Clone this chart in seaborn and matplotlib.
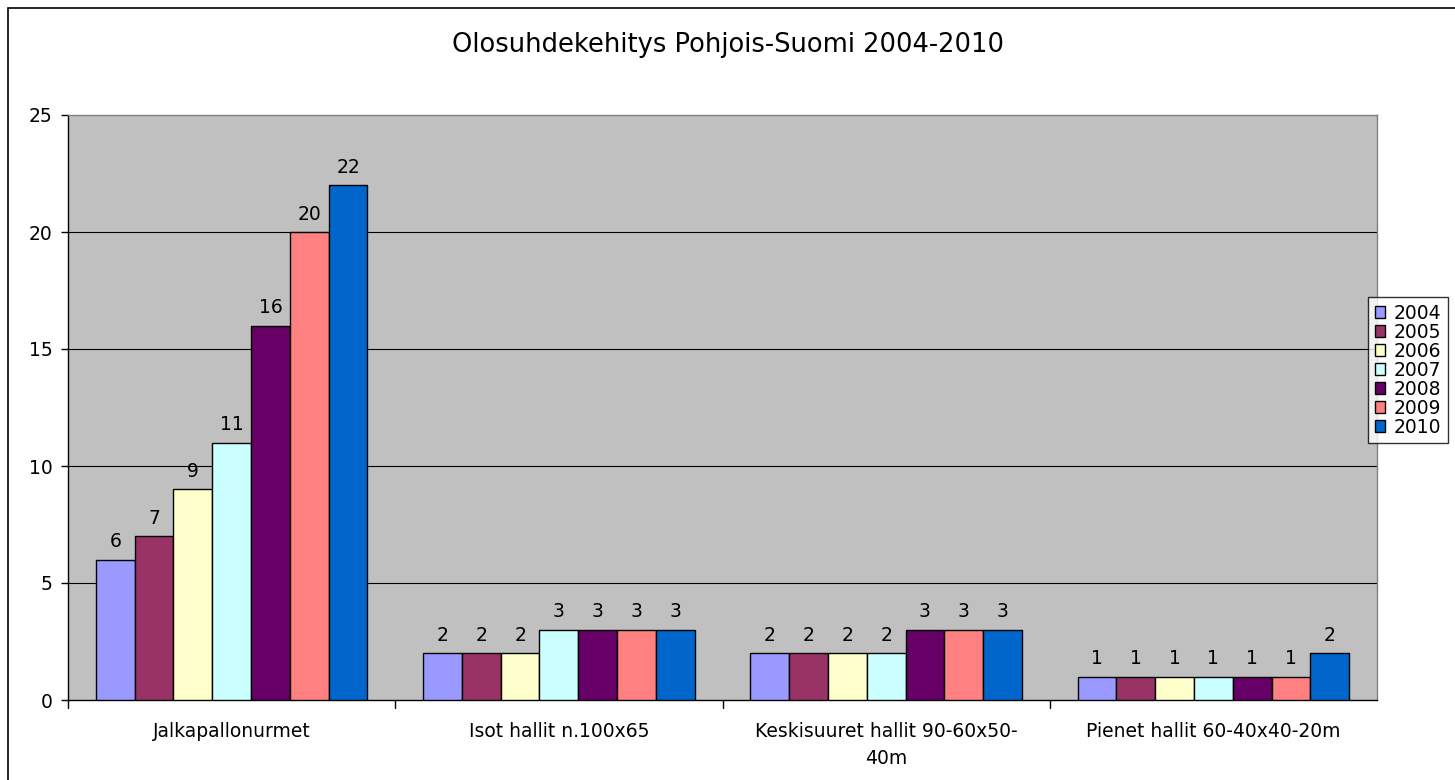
import matplotlib.pyplot as plt
import matplotlib.patches as mpatches
import seaborn as sns
import pandas as pd

# Chart data
categories = ['Jalkapallonurmet', 'Isot hallit n.100x65',
              'Keskisuuret hallit 90-60x50-\n40m', 'Pienet hallit 60-40x40-20m']
years = ['2004', '2005', '2006', '2007', '2008', '2009', '2010']
values_2004 = [6, 2, 2, 1]
values_2005 = [7, 2, 2, 1]
values_2006 = [9, 2, 2, 1]
values_2007 = [11, 3, 2, 1]
values_2008 = [16, 3, 3, 1]
values_2009 = [20, 3, 3, 1]
values_2010 = [22, 3, 3, 2]
year_colors = ['#9999FF', '#993366', '#FFFFCC', '#CCFFFF', '#660066', '#FF8080', '#0066CC']

series = [values_2004, values_2005, values_2006, values_2007,
          values_2008, values_2009, values_2010]
rows = []
for year, vals in zip(years, series):
    for cat, v in zip(categories, vals):
        rows.append({'category': cat, 'year': year, 'value': v})
df = pd.DataFrame(rows)

sns.set_style('white')
plt.rcParams['font.family'] = ['DejaVu Sans']
plt.rcParams['text.color'] = 'black'
plt.rcParams['xtick.color'] = 'black'
plt.rcParams['ytick.color'] = 'black'

fig = plt.figure(figsize=(14.55, 7.8), dpi=100)
ax = fig.add_axes([68 / 1455, 1 - 700 / 780, (1377 - 68) / 1455, (700 - 115) / 780])
ax.set_facecolor('#C0C0C0')

sns.barplot(data=df, x='category', y='value', hue='year', order=categories,
            hue_order=years, palette=year_colors, saturation=1, edgecolor='black',
            linewidth=1, width=0.83, gap=0, ax=ax, legend=False, zorder=3)

# value labels above bars
for cont in ax.containers:
    ax.bar_label(cont, fmt='%d', padding=6, fontsize=13.5, color='black')

# gridlines
ax.set_ylim(0, 25)
ax.set_yticks([0, 5, 10, 15, 20, 25])
ax.set_yticklabels(['0', '5', '10', '15', '20', '25'], fontsize=13.5)
for y in [5, 10, 15, 20]:
    ax.axhline(y, color='black', linewidth=0.8, zorder=1)
ax.set_xlim(-0.5, len(categories) - 0.5)
ax.set_xticks(range(len(categories)))
ax.set_xticklabels(categories, fontsize=13.5, linespacing=1.5)
ax.tick_params(axis='x', length=0, pad=16)
ax.tick_params(axis='y', length=5, direction='out', left=True, width=1, color='black', pad=6)
for b in [0.5, 1.5, 2.5]:
    ax.plot([b, b], [0, -0.35], color='black', linewidth=1, clip_on=False)
ax.plot([-0.5, -0.5], [0, -0.35], color='black', linewidth=1, clip_on=False)
ax.set_xlabel('')
ax.set_ylabel('')

ax.spines['left'].set_color('black')
ax.spines['bottom'].set_color('black')
ax.spines['top'].set_color('#808080')
ax.spines['right'].set_color('#808080')
for s in ax.spines.values():
    s.set_visible(True)
    s.set_linewidth(1)

fig.text(0.5, 1 - 45 / 780, 'Olosuhdekehitys Pohjois-Suomi 2004-2010',
         ha='center', va='center', fontsize=18.5, color='black')

# outer chart border
fig.patches.append(mpatches.Rectangle((8 / 1455, -0.01), 1.1, 1 - 8 / 780 + 0.01,
                                      transform=fig.transFigure, fill=False,
                                      edgecolor='black', linewidth=1.2))

handles = [mpatches.Patch(facecolor=c, edgecolor='black', linewidth=1, label=y)
           for c, y in zip(year_colors, years)]
leg = fig.legend(handles=handles, loc='upper left',
                 bbox_to_anchor=(1368 / 1455, 1 - 297 / 780), fontsize=13.5,
                 frameon=True, fancybox=False, edgecolor='black',
                 handlelength=0.55, handleheight=0.55, handletextpad=0.45,
                 labelspacing=0.0, borderpad=0.35, borderaxespad=0)
leg.get_frame().set_linewidth(1)

fig.savefig('out.png', dpi=100)
